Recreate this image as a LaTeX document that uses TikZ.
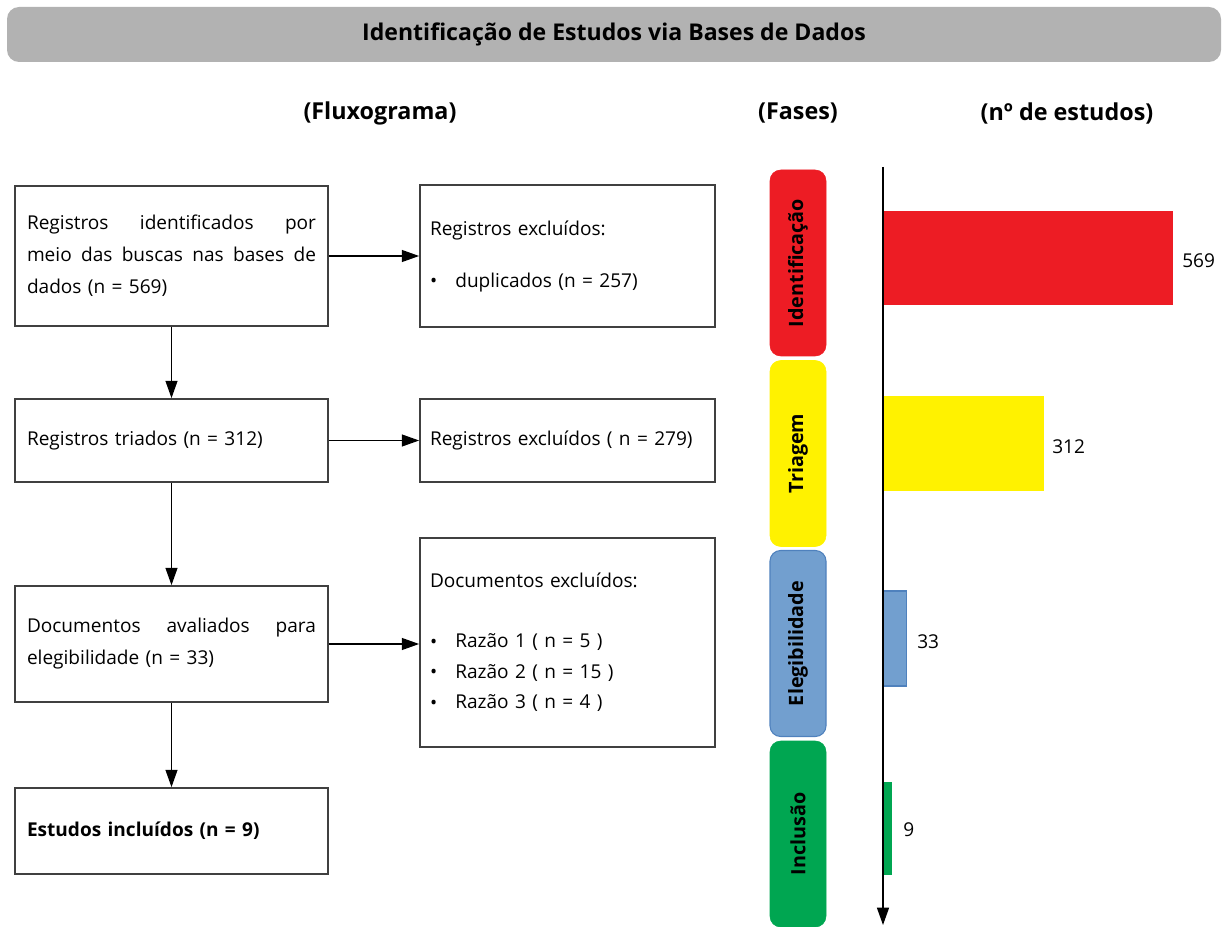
\documentclass[tikz,border=0pt]{standalone}
\usepackage{fontspec}
\setmainfont{Open Sans}
\usetikzlibrary{arrows.meta}
\definecolor{titlegray}{RGB}{178,178,178}
\definecolor{boxline}{RGB}{64,64,64}
\definecolor{phred}{RGB}{237,28,36}
\definecolor{phyellow}{RGB}{255,242,0}
\definecolor{phblue}{RGB}{114,159,207}
\definecolor{phblueline}{RGB}{79,129,189}
\definecolor{phgreen}{RGB}{0,166,81}
\tikzset{
  flowbox/.style={draw=boxline, line width=1.3pt, rectangle, inner xsep=9pt, inner ysep=0pt,
    minimum width=234.75pt, text width=216.75pt, align=left,
    font=\fontsize{14.3}{24}\selectfont},
  exbox/.style={draw=boxline, line width=1.3pt, rectangle, inner xsep=7.5pt, inner ysep=0pt,
    minimum width=221.25pt, text width=206.25pt, align=left,
    font=\fontsize{14.3}{23}\selectfont},
  flowarrow/.style={line width=0.9pt, -{Triangle[length=13pt,width=9pt]}},
  phase/.style={rectangle, rounded corners=8pt, minimum width=42pt, minimum height=139.5pt,
    inner sep=0pt, font=\bfseries\fontsize{14.8}{16}\selectfont},
  bar/.style={rectangle, anchor=west, inner sep=0pt},
  barlabel/.style={anchor=west, inner sep=0pt, font=\fontsize{14.3}{16}\selectfont},
  header/.style={font=\bfseries\fontsize{17.5}{20}\selectfont, inner sep=0pt},
}
\newcommand{\blt}{\makebox[19pt][l]{\raisebox{-0.5pt}{•}}}
\begin{document}
\begin{tikzpicture}[x=0.75pt, y=-0.75pt]
\useasboundingbox (0,0) rectangle (1229,927);
% title
\node[fill=titlegray, rounded corners=9pt, minimum width=910.5pt, minimum height=41.25pt, inner sep=0pt,
  font=\bfseries\fontsize{17.3}{20}\selectfont] (title) at (614,34.5) {Identificação de Estudos via Bases de Dados};
% headers
\node[header] (hflux) at (380,113) {(Fluxograma)};
\node[header] (hfases) at (798,113) {(Fases)};
\node[header] (hnum) at (1067,113) {(nº de estudos)};
% flow boxes
\node[flowbox, minimum height=105pt] (b1) at (171.5,256) {Registros\hfill identificados\hfill por\\meio\hfill das\hfill buscas\hfill nas\hfill bases\hfill de\\dados (n = 569)};
\node[exbox, minimum height=106.5pt] (e1) at (567.5,256) {Registros excluídos:\\[16pt]\blt duplicados (n = 257)};
\node[flowbox, minimum height=62.25pt] (b2) at (171.5,440.5) {Registros triados (n = 312)};
\node[exbox, minimum height=62.25pt] (e2) at (567.5,440.5) {Registros excluídos ( n = 279)};
\node[flowbox, minimum height=87pt] (b3) at (171.5,644) {Documentos\hfill avaliados\hfill para\\elegibilidade (n = 33)};
\node[exbox, minimum height=156.75pt] (e3) at (567.5,642.5) {Documentos excluídos:\\[22pt]\blt Razão 1 ( n = 5 )\\\blt Razão 2 ( n = 15 )\\\blt Razão 3 ( n = 4 )};
\node[flowbox, minimum height=64.5pt] (b4) at (171.5,831) {\textbf{Estudos incluídos (n = 9)}};
% arrows
\draw[flowarrow] (b1.east) -- (e1.west);
\draw[flowarrow] (b2.east) -- (e2.west);
\draw[flowarrow] (b3.east) -- (b3.east -| e3.west);
\draw[flowarrow] (b1.south) -- (b2.north);
\draw[flowarrow] (b2.south) -- (b3.north);
\draw[flowarrow] (b3.south) -- (b4.north);
% phases
\node[phase, fill=phred, draw=phred] (p1) at (798,263) {\rotatebox{90}{Identificação}};
\node[phase, fill=phyellow, draw=phyellow] (p2) at (798,453.5) {\rotatebox{90}{Triagem}};
\node[phase, fill=phblue, draw=phblueline, line width=0.8pt] (p3) at (798,643.5) {\rotatebox{90}{Elegibilidade}};
\node[phase, fill=phgreen, draw=phgreen] (p4) at (798,834) {\rotatebox{90}{Inclusão}};
% bars
\node[bar, fill=phred, minimum width=217.5pt, minimum height=70.5pt] (r1) at (883,258) {};
\node[bar, fill=phyellow, minimum width=120.75pt, minimum height=71.25pt] (r2) at (883,443.5) {};
\node[bar, fill=phblue, draw=phblueline, line width=0.8pt, minimum width=17.25pt, minimum height=71.25pt] (r3) at (883,638.5) {};
\node[bar, fill=phgreen, minimum width=6.75pt, minimum height=69.75pt] (r4) at (883,828.5) {};
\node[barlabel] (l1) at (1182,261) {569};
\node[barlabel] (l2) at (1052,447) {312};
\node[barlabel] (l3) at (917,642) {33};
\node[barlabel] (l4) at (903,830) {9};
% axis
\coordinate (axtop) at (883,167);
\coordinate (axbot) at (883,925);
\draw[flowarrow, line width=1pt] (axtop) -- (axbot);
\end{tikzpicture}
\end{document}
